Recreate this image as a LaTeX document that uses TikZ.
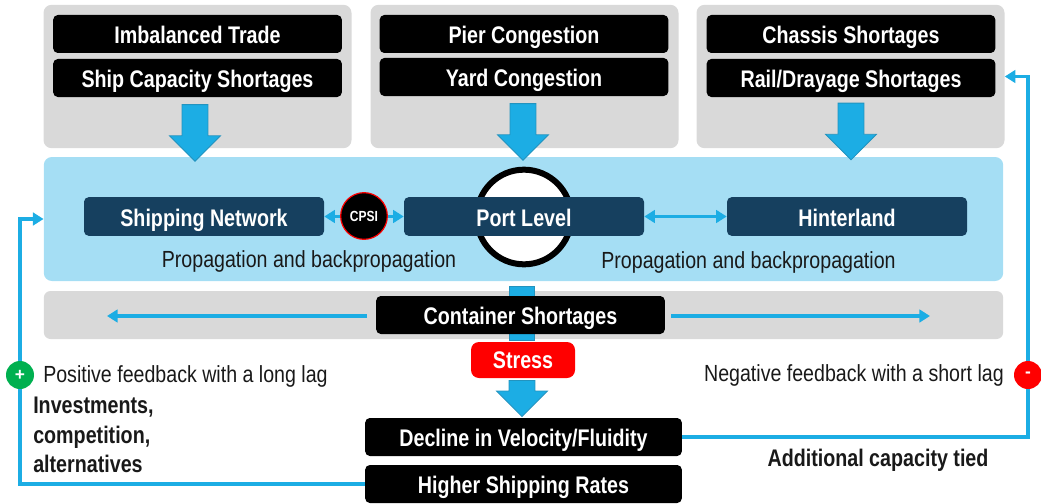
\documentclass[tikz,border=0pt]{standalone}
\usepackage{xcolor}
\usepackage{fontspec}
\usetikzlibrary{shapes.arrows,arrows.meta}
\setmainfont{Liberation Sans}
\newfontfamily\narrowreg[FakeStretch=0.84]{Liberation Sans}
\newfontfamily\narrowbold[FakeStretch=0.82]{Liberation Sans Bold}
\definecolor{panelgray}{HTML}{D9D9D9}
\definecolor{panelblue}{HTML}{A5DEF4}
\definecolor{linkblue}{HTML}{1CADE4}
\definecolor{edgeblue}{HTML}{2293BF}
\definecolor{levelblue}{HTML}{16405F}
\definecolor{greensign}{HTML}{00B050}
\tikzset{
    graypanel/.style={fill=panelgray, rounded corners=6pt, inner sep=0pt, minimum width=231pt, minimum height=107.5pt},
    blackbox/.style={fill=black, text=white, rounded corners=3.5pt, inner sep=0pt, minimum width=216.5pt, minimum height=28.5pt, text height=14.3pt, text depth=0pt, font=\narrowbold\fontsize{18}{20}\selectfont},
    levelbox/.style={blackbox, fill=levelblue},
    bigarrow/.style={single arrow, fill=linkblue, draw=edgeblue, line width=0.6pt, rotate=-90, inner xsep=0pt, inner ysep=9.4pt, minimum height=42.5pt, minimum width=37.5pt, single arrow head extend=9.4pt, single arrow tip angle=90},
    thinlink/.style={draw=linkblue, line width=2.5pt, -{Triangle[length=8pt,width=9.5pt]}},
    bothlink/.style={draw=linkblue, line width=2.5pt, {Triangle[length=8pt,width=9.5pt]}-{Triangle[length=8pt,width=9.5pt]}},
    plainlabel/.style={inner sep=0pt, text=black!90, text height=12.7pt, text depth=0pt, font=\narrowreg\fontsize{17.5}{20}\selectfont},
    boldlabel/.style={inner sep=0pt, anchor=west, text=black!90, text height=12.2pt, text depth=0pt, font=\narrowbold\fontsize{18}{20}\selectfont},
    signdot/.style={circle, inner sep=0pt, minimum size=21pt, text=white, font=\bfseries\fontsize{13}{13}\selectfont}
}
\begin{document}
\begin{tikzpicture}[x=0.75pt,y=-0.75pt]
    \useasboundingbox (0,0) rectangle (1041,503);
    % top panels
    \node[graypanel] (tradepanel) at (197.5,76.5) {};
    \node[graypanel] (portpanel) at (524.5,76.5) {};
    \node[graypanel] (railpanel) at (850.5,76.5) {};
    \node[blackbox] (trade) at (197.5,34) {Imbalanced Trade};
    \node[blackbox] (capacity) at (197.5,78) {Ship Capacity Shortages};
    \node[blackbox] (pier) at (524,34) {Pier Congestion};
    \node[blackbox] (yard) at (524,77) {Yard Congestion};
    \node[blackbox] (chassis) at (851,34) {Chassis Shortages};
    \node[blackbox] (drayage) at (851,78) {Rail/Drayage Shortages};
    % levels
    \node[fill=panelblue, rounded corners=6pt, inner sep=0pt, minimum width=719.5pt, minimum height=93pt] (levels) at (523.5,219) {};
    \node[bigarrow] (arrowa) at (195,126.5) {};
    \node[bigarrow] (arrowb) at (523,125.5) {};
    \node[bigarrow] (arrowc) at (851,125) {};
    \node[circle, draw=black, fill=white, line width=4.5pt, inner sep=0pt, minimum size=71pt] (portring) at (524,217) {};
    \node[levelbox, minimum width=180pt, minimum height=29pt] (network) at (204,216.5) {Shipping Network};
    \node[levelbox, minimum width=180pt, minimum height=29pt] (port) at (524,216.5) {Port Level};
    \node[levelbox, minimum width=180pt, minimum height=29pt] (hinterland) at (847,216.5) {Hinterland};
    \draw[bothlink] (network) -- (port);
    \draw[bothlink] (port) -- (hinterland);
    \node[circle, fill=black, draw=red, line width=0.9pt, text=white, inner sep=0pt, minimum size=35pt, font=\narrowbold\fontsize{11}{12}\selectfont] (cpsi) at (364,216) {CPSI};
    \node[plainlabel] (propleft) at (309,259.5) {Propagation and backpropagation};
    \node[plainlabel] (propright) at (748.5,260.5) {Propagation and backpropagation};
    % container shortages
    \node[fill=panelgray, rounded corners=5pt, inner sep=0pt, minimum width=719.5pt, minimum height=36pt] (strip) at (523.5,315) {};
    \node[fill=linkblue, draw=edgeblue, line width=0.5pt, inner sep=0pt, minimum width=18.5pt, minimum height=40.5pt] (stem) at (521.5,313) {};
    \node[blackbox] (container) at (520.5,315) {Container Shortages};
    \coordinate (stripleft) at (107,316);
    \coordinate (stripright) at (930,316);
    \coordinate (gapleft) at (367,316);
    \coordinate (gapright) at (671,316);
    \draw[thinlink] (gapleft) -- (stripleft);
    \draw[thinlink] (gapright) -- (stripright);
    \node[fill=red, text=white, rounded corners=6pt, inner sep=0pt, minimum width=78pt, minimum height=27pt, text height=13pt, text depth=0pt, font=\narrowbold\fontsize{18}{20}\selectfont] (stress) at (523,360) {Stress};
    \node[bigarrow, minimum height=27pt] (arrowd) at (522,392) {};
    \node[blackbox, minimum width=237.5pt] (decline) at (523.5,437) {Decline in Velocity/Fluidity};
    \node[blackbox, minimum width=237.5pt] (rates) at (523.5,484) {Higher Shipping Rates};
    % feedback loops
    \coordinate (cornerleft) at (20,484);
    \coordinate (cornerright) at (1028,437);
    \draw[thinlink] (rates.west) -- (cornerleft) |- (levels.west);
    \draw[thinlink] (decline.east) -- (cornerright) |- (railpanel.east);
    \node[signdot, fill=greensign] (plus) at (20,375) {+};
    \node[signdot, fill=red] (minus) at (1028,375) {-};
    \node[plainlabel, anchor=west] (positive) at (43,374) {Positive feedback with a long lag};
    \node[plainlabel, anchor=east] (negative) at (1004,373.5) {Negative feedback with a short lag};
    \node[boldlabel] (invest) at (33,405) {Investments,};
    \node[boldlabel] (compete) at (33,435) {competition,};
    \node[boldlabel] (alternate) at (33,464) {alternatives};
    \node[boldlabel, anchor=center] (tied) at (878,458.5) {Additional capacity tied};
\end{tikzpicture}
\end{document}
